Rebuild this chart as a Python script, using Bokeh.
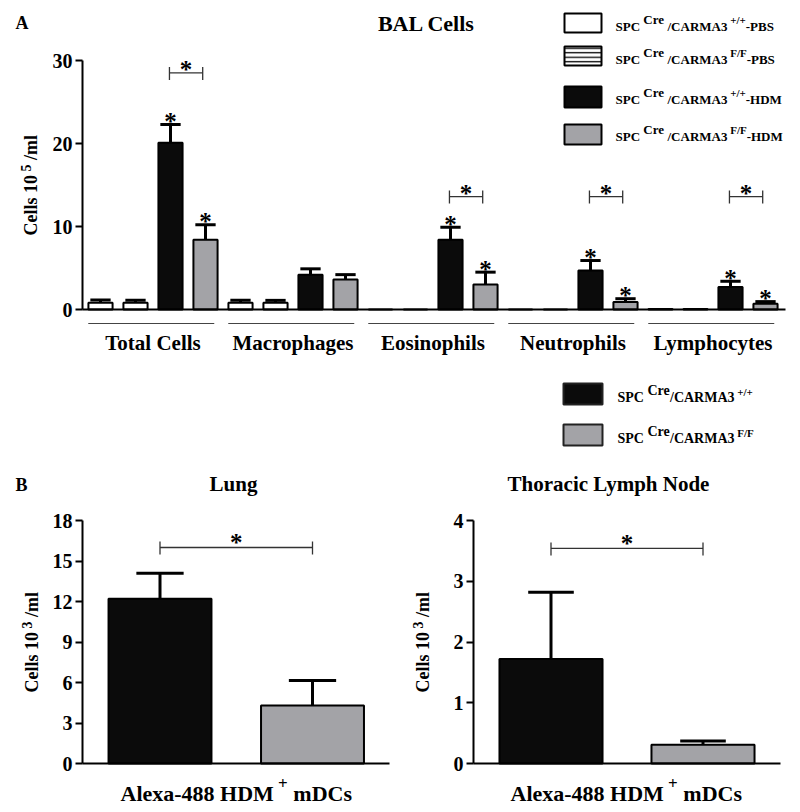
import numpy as np
from math import pi
from bokeh.plotting import figure
from bokeh.models import Range1d, LinearAxis, FixedTicker, ColumnDataSource
from bokeh.layouts import column, row
from bokeh.core.properties import value
from bokeh.embed import file_html
from bokeh.resources import INLINE

FONT = "Liberation Serif"
BLACK = "#0b0b0b"
GRAY = "#a3a3a7"
BASE_FIX = 0.33  # rendered alphabetic baseline sits this fraction of the font size too low

# ---------------- Panel A data (BAL cells, x10^5 / ml) ----------------
groups = ["Total Cells", "Macrophages", "Eosinophils", "Neutrophils", "Lymphocytes"]
wt_pbs = [0.8, 0.8, 0.0, 0.0, 0.05]
wt_pbs_err = [0.35, 0.3, 0.0, 0.0, 0.0]
ff_pbs = [0.8, 0.8, 0.0, 0.0, 0.05]
ff_pbs_err = [0.3, 0.3, 0.0, 0.0, 0.0]
wt_hdm = [20.1, 4.2, 8.4, 4.7, 2.7]
wt_hdm_err = [2.2, 0.7, 1.5, 1.2, 0.7]
ff_hdm = [8.4, 3.6, 3.0, 0.9, 0.7]
ff_hdm_err = [1.8, 0.6, 1.5, 0.4, 0.25]
hdm_star = [True, False, True, True, True]
bracket_a = [28.5, None, 13.6, 13.6, 13.6]
a_ticks = [0, 10, 20, 30]

# ---------------- Panel B data (x10^3 / ml) ----------------
lung_vals = [12.2, 4.3]
lung_err = [1.9, 1.85]
lung_bracket = 16.0
lung_ticks = [0, 3, 6, 9, 12, 15, 18]
tln_vals = [1.72, 0.31]
tln_err = [1.1, 0.06]
tln_bracket = 3.54
tln_ticks = [0, 1, 2, 3, 4]

# Times-Bold advance widths (per 1000 em) for laying out rich text
W = {' ': 250, '*': 500, '+': 570, '-': 333, '/': 278,
     'A': 722, 'B': 667, 'C': 722, 'D': 722, 'E': 667, 'F': 611, 'H': 778, 'L': 667,
     'M': 944, 'N': 722, 'P': 611, 'R': 722, 'S': 556, 'T': 667,
     'a': 500, 'c': 444, 'd': 556, 'e': 444, 'g': 500, 'h': 556, 'i': 278, 'l': 278,
     'm': 833, 'n': 556, 'o': 500, 'p': 556, 'r': 444, 's': 389, 't': 333, 'u': 556,
     'x': 500, 'y': 500}


def tw(s, size):
    return sum(W.get(c, 500) for c in s) * size / 1000.0


class Panel:
    def __init__(self, ox, oy, w, h, x0px, xs, y0px, ys):
        self.x0px, self.xs, self.y0px, self.ys = x0px, xs, y0px, ys
        self.p = figure(width=w, height=h, output_backend="svg", toolbar_location=None,
                        x_axis_location=None, y_axis_location=None,
                        x_range=Range1d(self.fx(ox), self.fx(ox + w)),
                        y_range=Range1d(self.fy(oy + h), self.fy(oy)),
                        min_border=0, min_border_left=0, min_border_right=0,
                        min_border_top=0, min_border_bottom=0)
        self.p.outline_line_color = None
        self.p.xgrid.visible = False
        self.p.ygrid.visible = False
        self.p.background_fill_color = "white"

    def fx(self, px):
        return (px - self.x0px) / self.xs

    def fy(self, py):
        return (self.y0px - py) / self.ys

    def dx(self, px):
        return px / self.xs

    def dy(self, px):
        return px / self.ys

    def text(self, x, y, t, size, align="left", angle=0.0):
        if angle == 0.0:
            y = y + self.dy(BASE_FIX * size)
        else:
            x = x - self.dx(BASE_FIX * size)
        self.p.text(x=[x], y=[y], text=[t], text_font=value(FONT), text_font_style="bold",
                    text_font_size=f"{size}px", text_align=align, text_baseline="alphabetic",
                    text_color="black", angle=angle)

    def rich(self, x0, base, pieces):
        x = x0
        for txt, size, rise in pieces:
            lead = len(txt) - len(txt.lstrip(' '))
            x += lead * 0.25 * size
            t = txt.strip(' ')
            self.text(self.fx(x), self.fy(base - rise), t, size)
            x += tw(t, size)

    def rich_v(self, xbase, y0, pieces):
        y = y0
        for txt, size, rise in pieces:
            lead = len(txt) - len(txt.lstrip(' '))
            y -= lead * 0.25 * size
            t = txt.strip(' ')
            self.text(self.fx(xbase - rise), self.fy(y), t, size, angle=pi / 2)
            y -= tw(t, size)

    def yaxis(self, xpx, ticks):
        ax = LinearAxis(fixed_location=self.fx(xpx), bounds=(ticks[0], ticks[-1]),
                        ticker=FixedTicker(ticks=ticks),
                        axis_line_width=2, axis_line_color="black",
                        major_tick_line_width=2, major_tick_out=7, major_tick_in=0,
                        minor_tick_line_color=None,
                        major_label_text_font=FONT, major_label_text_font_style="bold",
                        major_label_text_font_size="20px", major_label_standoff=3,
                        major_label_text_color="black")
        self.p.add_layout(ax, "left")

    def xaxis(self, xpx0, xpx1):
        ax = LinearAxis(fixed_location=0, bounds=(self.fx(xpx0), self.fx(xpx1)),
                        ticker=FixedTicker(ticks=[]), axis_line_width=2, axis_line_color="black",
                        major_tick_line_color=None, minor_tick_line_color=None,
                        major_label_text_font_size="0px")
        self.p.add_layout(ax, "below")

    def star(self, x, ytop, gap=7.0, size=25):
        # asterisk centre sits ~0.485 em above its baseline
        self.text(x, ytop + self.dy(gap) - self.dy(0.485 * size), "*", size, align="center")

    def bracket(self, xa, xb, y, gap=7.0):
        p = self.p
        p.segment(x0=[xa], y0=[y], x1=[xb], y1=[y], line_color="#333333", line_width=1.3)
        p.segment(x0=[xa, xb], y0=[y + self.dy(6)] * 2, x1=[xa, xb], y1=[y - self.dy(7)] * 2,
                  line_color="#333333", line_width=1.3)
        self.star((xa + xb) / 2, y, gap=gap)

    def bars(self, xs, vals, errs, colors, width, cap_half):
        p = self.p
        xs = np.asarray(xs, dtype=float)
        vals = np.asarray(vals, dtype=float)
        errs = np.asarray(errs, dtype=float)
        m = errs > 0
        if m.any():
            p.segment(x0=xs[m], y0=vals[m], x1=xs[m], y1=(vals + errs)[m],
                      line_color="black", line_width=3)
            p.segment(x0=(xs - cap_half)[m], y0=(vals + errs)[m], x1=(xs + cap_half)[m],
                      y1=(vals + errs)[m], line_color="black", line_width=3)
        src = ColumnDataSource(dict(x=xs, top=vals, color=colors))
        p.vbar(x="x", top="top", bottom=0, width=width, source=src, fill_color="color",
               line_color="black", line_width=2)


# ======================= Panel A =======================
A = Panel(0, 0, 800, 460, 100, 35, 309, 8.3)
pa = A.p
n_series = 4
gidx = np.arange(len(groups))
series = [(wt_pbs, wt_pbs_err, "white"), (ff_pbs, ff_pbs_err, "white"),
          (wt_hdm, wt_hdm_err, BLACK), (ff_hdm, ff_hdm_err, GRAY)]
for s, (vals, errs, col) in enumerate(series):
    xs = gidx * n_series + s
    A.bars(xs, vals, errs, [col] * len(vals), 0.69, 0.29)

for g in gidx:
    if hdm_star[g]:
        for s, vals, errs in ((2, wt_hdm, wt_hdm_err), (3, ff_hdm, ff_hdm_err)):
            A.star(g * n_series + s, vals[g] + errs[g])
    if bracket_a[g] is not None:
        A.bracket(g * n_series + 2 - 0.03, g * n_series + 3 - 0.08, bracket_a[g])

A.yaxis(82, a_ticks)
A.xaxis(82, 785)

# group underlines and labels
ul_y = A.fy(323)
pa.segment(x0=gidx * n_series - 0.35, y0=[ul_y] * len(groups),
           x1=gidx * n_series + 3.25, y1=[ul_y] * len(groups), line_color="#444444", line_width=1)
pa.text(x=gidx * n_series + 1.5, y=[A.fy(349) + A.dy(BASE_FIX * 21)] * len(groups), text=groups,
        text_font=value(FONT), text_font_style="bold", text_font_size="21px",
        text_align="center", text_baseline="alphabetic", text_color="black")

# titles
A.text(A.fx(15), A.fy(28), "A", 18)
A.text(A.fx(426), A.fy(30), "BAL Cells", 22, align="center")
A.rich_v(36, 235, [("Cells 10", 18, 0), (" 5", 14, 6), (" /ml", 18, 0)])

# legend 1
leg_boxes = [(13, 32), (46, 65), (86, 107), (124, 144)]
leg_fill = ["white", "white", BLACK, GRAY]
leg_hatch = [None, "horizontal_line", None, None]
for (t, b), fc, hp in zip(leg_boxes, leg_fill, leg_hatch):
    kw = {}
    if hp:
        kw = dict(hatch_pattern=hp, hatch_scale=4.5, hatch_weight=1.3, hatch_color="black")
    pa.quad(left=[A.fx(564)], right=[A.fx(601)], top=[A.fy(t)], bottom=[A.fy(b)],
            fill_color=fc, line_color="black", line_width=2, **kw)
leg_bases = [30, 63, 103, 140]
leg_sup = ["+/+", "F/F", "+/+", "F/F"]
leg_suffix = ["-PBS", "-PBS", "-HDM", "-HDM"]
for base, sup, suf in zip(leg_bases, leg_sup, leg_suffix):
    A.rich(615, base, [("SPC", 13, 0), (" Cre", 13, 7), (" /CARMA3", 13, 0),
                       (" " + sup, 11, 7), (suf, 13, 0)])

# legend 2 (panel B)
for (t, b), fc, base, sup in zip([(383, 404), (424, 445)], [BLACK, GRAY], [402, 443], ["+/+", "F/F"]):
    pa.quad(left=[A.fx(563)], right=[A.fx(602)], top=[A.fy(t)], bottom=[A.fy(b)],
            fill_color=fc, line_color="#222222", line_width=2)
    A.rich(617, base, [("SPC", 14, 0), (" Cre", 14, 7), ("/CARMA3", 14, 0), (" " + sup, 11, 7)])

# ======================= Panel B: Lung =======================
L = Panel(0, 460, 400, 350, 159.5, 152.5, 763, 13.5)
L.bars([0, 1], lung_vals, lung_err, [BLACK, GRAY], 0.675, 0.155)
L.yaxis(82, lung_ticks)
L.xaxis(82, 389)
L.bracket(0, 1, lung_bracket, gap=9)
L.text(L.fx(15), L.fy(490), "B", 18)
L.text(L.fx(233), L.fy(490), "Lung", 21, align="center")
L.rich_v(37, 692, [("Cells 10", 18, 0), (" 3", 14, 6), (" /ml", 18, 0)])
L.rich(120, 800, [("Alexa-488 HDM", 22, 0), (" +", 17, 11), (" mDCs", 22, 0)])

# ======================= Panel B: Thoracic Lymph Node =======================
T = Panel(400, 460, 400, 350, 550.5, 152, 763, 60.75)
T.bars([0, 1], tln_vals, tln_err, [BLACK, GRAY], 0.678, 0.15)
T.yaxis(473, tln_ticks)
T.xaxis(473, 780)
T.bracket(0, 1, tln_bracket, gap=9)
T.text(T.fx(608), T.fy(490), "Thoracic Lymph Node", 21, align="center")
T.rich_v(428, 692, [("Cells 10", 18, 0), (" 3", 14, 6), (" /ml", 18, 0)])
T.rich(510, 800, [("Alexa-488 HDM", 22, 0), (" +", 17, 11), (" mDCs", 22, 0)])

layout = column(pa, row(L.p, T.p, spacing=0), spacing=0)
open("out.html", "w").write(file_html(layout, INLINE))
